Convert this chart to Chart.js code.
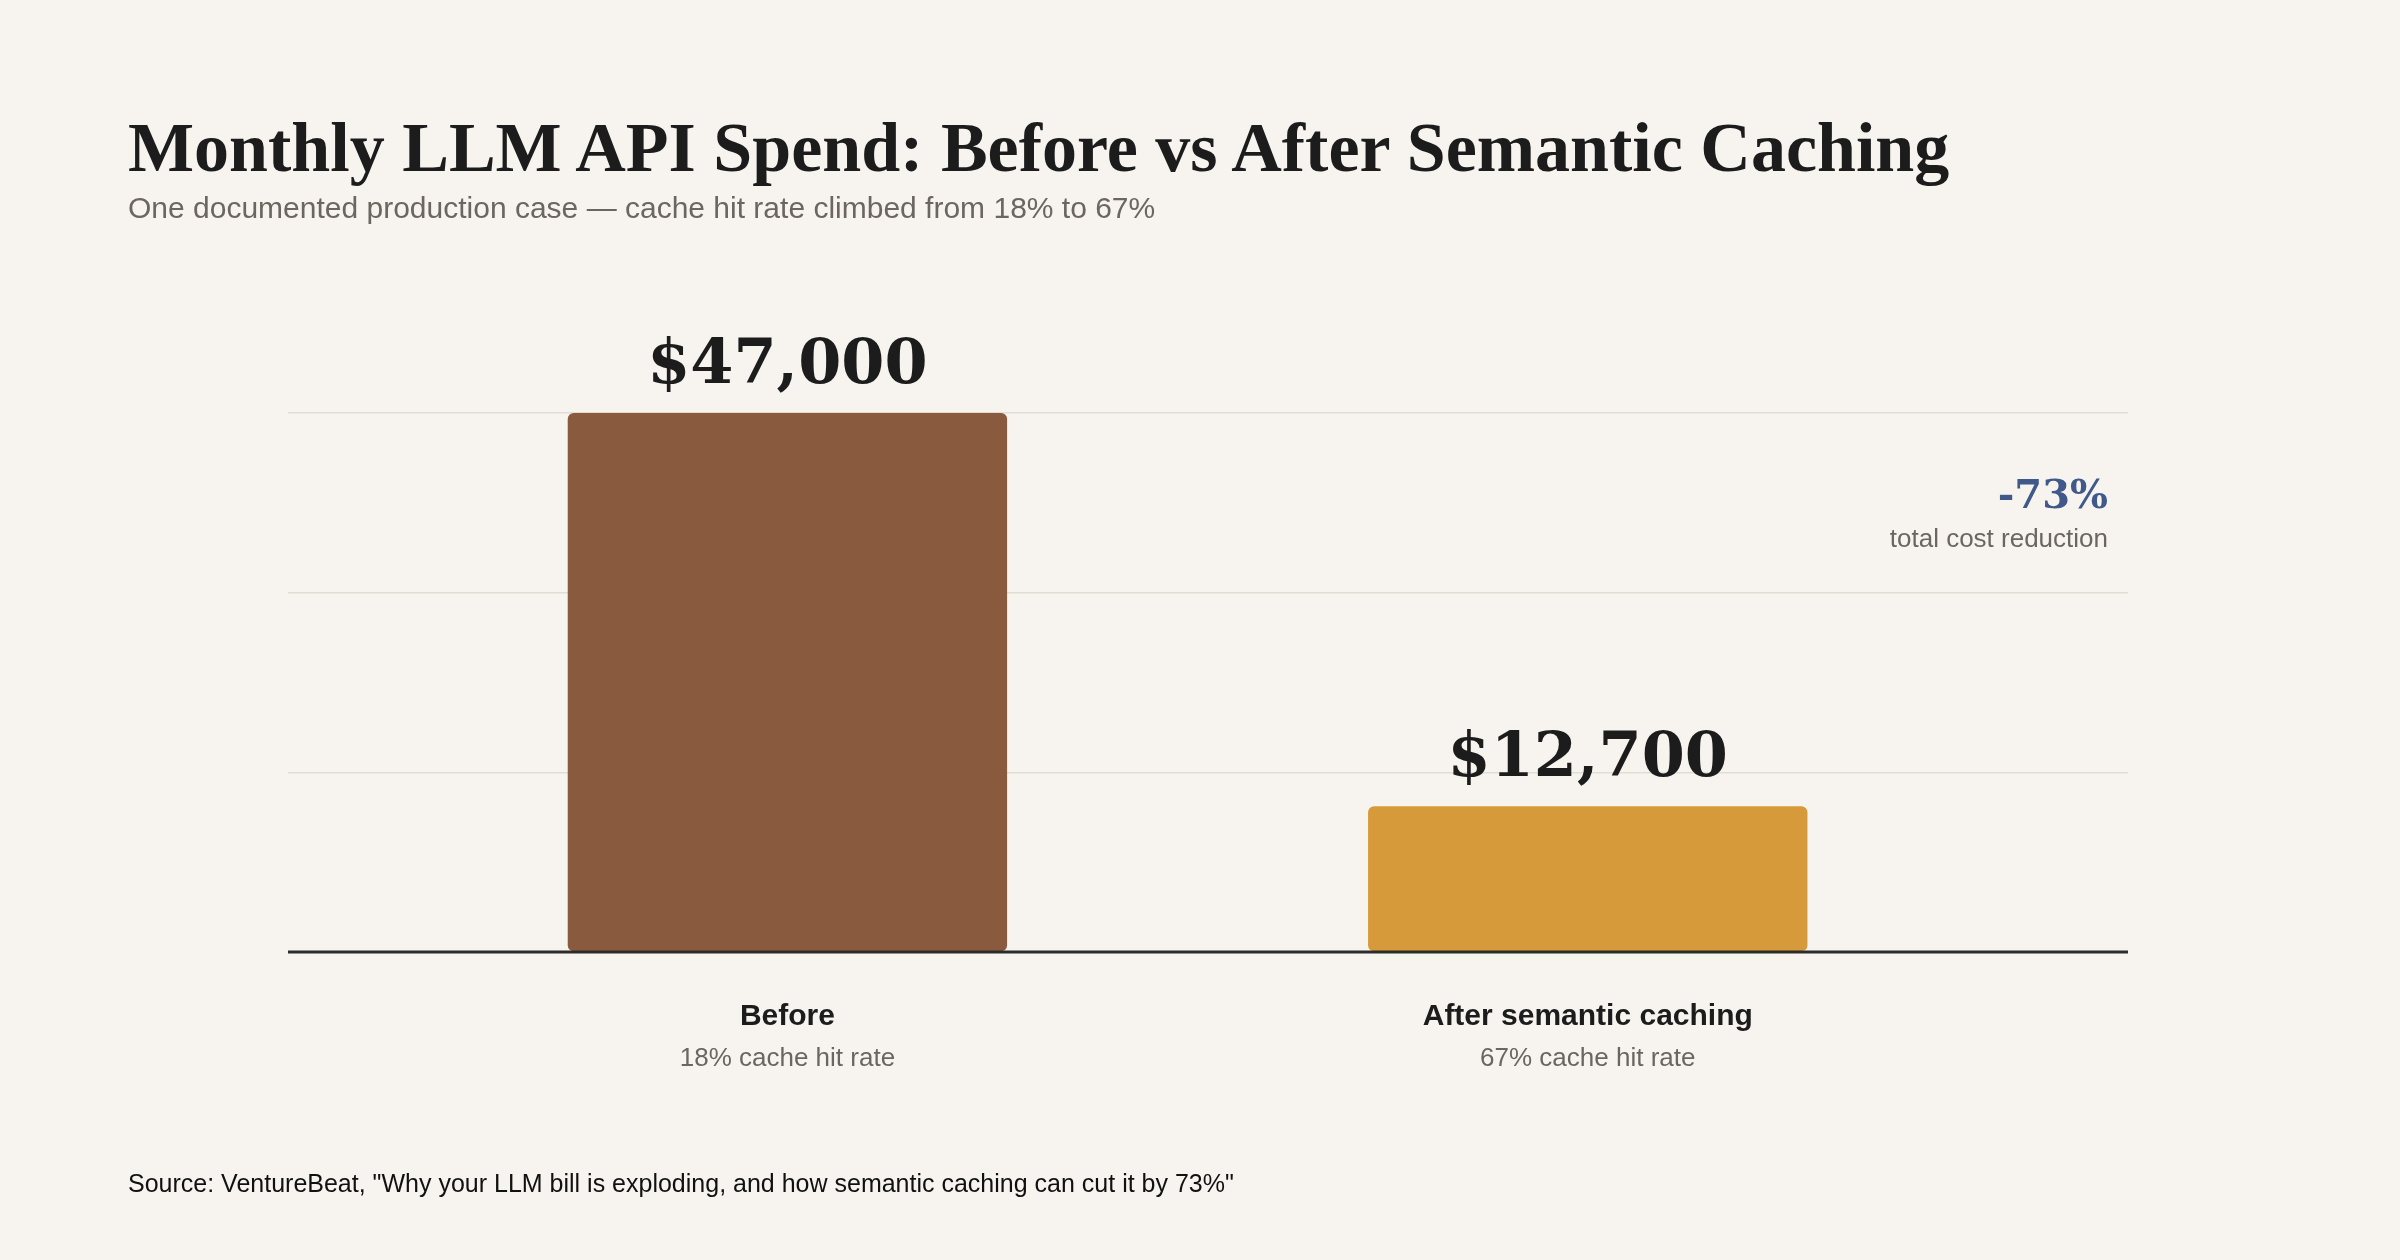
<!DOCTYPE html>
<html>
<head>
<meta charset="utf-8">
<script src="https://cdn.jsdelivr.net/npm/chart.js@4.4.1/dist/chart.umd.min.js"></script>
<style>
  html, body { margin: 0; padding: 0; background: #f7f4ef; }
  #wrap { position: relative; width: 2400px; height: 1260px; overflow: hidden; }
  #grafico { position: absolute; left: 0; top: 0; }
  .titulo { position: absolute; left: 128px; top: 108px; margin: 0;
    font-family: "Liberation Serif", "DejaVu Serif", serif; font-weight: bold;
    font-size: 70px; line-height: 80px; color: #1c1c1c; white-space: nowrap; }
  .subtitulo { position: absolute; left: 128px; top: 190px; margin: 0;
    font-family: "Liberation Sans", Arial, sans-serif; font-size: 30px; line-height: 36px;
    color: #6b6660; white-space: nowrap; }
  .fuente { position: absolute; left: 128px; top: 1168px; margin: 0;
    font-family: "Liberation Sans", Arial, sans-serif; font-size: 25px; line-height: 30px;
    color: #111; white-space: nowrap; }
</style>
</head>
<body>
<div id="wrap">
  <canvas id="grafico" width="2400" height="1260"></canvas>
  <h1 class="titulo">Monthly LLM API Spend: Before vs After Semantic Caching</h1>
  <p class="subtitulo">One documented production case — cache hit rate climbed from 18% to 67%</p>
  <p class="fuente">Source: VentureBeat, "Why your LLM bill is exploding, and how semantic caching can cut it by 73%"</p>
</div>
<script>
// datos
const categorias = ['Before', 'After semantic caching'];
const subetiquetas = ['18% cache hit rate', '67% cache hit rate'];
const gasto = [47000, 12700];
const posiciones = [0, 1];
const yMax = 47000;
const lineasGrid = 3;

const colores = ['#8a5a3e', '#d69a3a'];

// etiquetas sobre barras, categorias y anotacion
const etiquetas = {
    id: 'etiquetas',
    afterDatasetsDraw(chart) {
        const ctx = chart.ctx;
        const area = chart.chartArea;
        const meta = chart.getDatasetMeta(0);
        ctx.save();
        ctx.textAlign = 'center';
        ctx.textBaseline = 'alphabetic';
        meta.data.forEach((bar, i) => {
            ctx.fillStyle = '#1c1c1c';
            ctx.font = 'bold 62px "DejaVu Serif", "Liberation Serif", serif';
            ctx.fillText('$' + gasto[i].toLocaleString('en-US'), bar.x, bar.y - 30);

            ctx.font = 'bold 30px "Liberation Sans", Arial, sans-serif';
            ctx.fillText(categorias[i], bar.x, area.bottom + 73);

            ctx.fillStyle = '#6b6660';
            ctx.font = '26px "Liberation Sans", Arial, sans-serif';
            ctx.fillText(subetiquetas[i], bar.x, area.bottom + 114);
        });

        // reduccion total
        const reduccion = Math.round((1 - gasto[1] / gasto[0]) * 100);
        ctx.textAlign = 'right';
        ctx.fillStyle = '#40598a';
        ctx.font = 'bold 40px "DejaVu Serif", "Liberation Serif", serif';
        ctx.fillText('-' + reduccion + '%', area.right - 20, area.top + 95);
        ctx.fillStyle = '#6b6660';
        ctx.font = '26px "Liberation Sans", Arial, sans-serif';
        ctx.fillText('total cost reduction', area.right - 20, area.top + 134);

        // linea base
        const y0 = chart.scales.y.getPixelForValue(0);
        ctx.strokeStyle = '#2b2b2b';
        ctx.lineWidth = 3;
        ctx.beginPath();
        ctx.moveTo(area.left, y0);
        ctx.lineTo(area.right, y0);
        ctx.stroke();
        ctx.restore();
    }
};

const grafico = new Chart(document.getElementById('grafico'), {
    type: 'bar',
    data: {
        datasets: [{
            data: posiciones.map((p, i) => ({ x: p, y: gasto[i] })),
            backgroundColor: colores,
            borderRadius: 6,
            borderSkipped: false,
            barPercentage: 0.549,
            categoryPercentage: 1
        }]
    },
    options: {
        responsive: false,
        animation: false,
        devicePixelRatio: 1,
        layout: { padding: { left: 288, right: 272, top: 413, bottom: 308 } },
        plugins: { legend: { display: false }, tooltip: { enabled: false } },
        scales: {
            x: {
                type: 'linear',
                min: -0.624,
                max: 1.675,
                offset: false,
                display: false,
                afterBuildTicks(scale) {
                    scale.ticks = posiciones.map(v => ({ value: v }));
                }
            },
            y: {
                min: 0,
                max: yMax,
                afterBuildTicks(scale) {
                    const t = [];
                    for (let k = 0; k <= lineasGrid; k++) t.push({ value: yMax * k / lineasGrid });
                    scale.ticks = t;
                },
                ticks: { display: false },
                border: { display: false },
                grid: { color: '#e2ddd4', lineWidth: 1.5, drawTicks: false }
            }
        }
    },
    plugins: [etiquetas]
});
</script>
</body>
</html>
